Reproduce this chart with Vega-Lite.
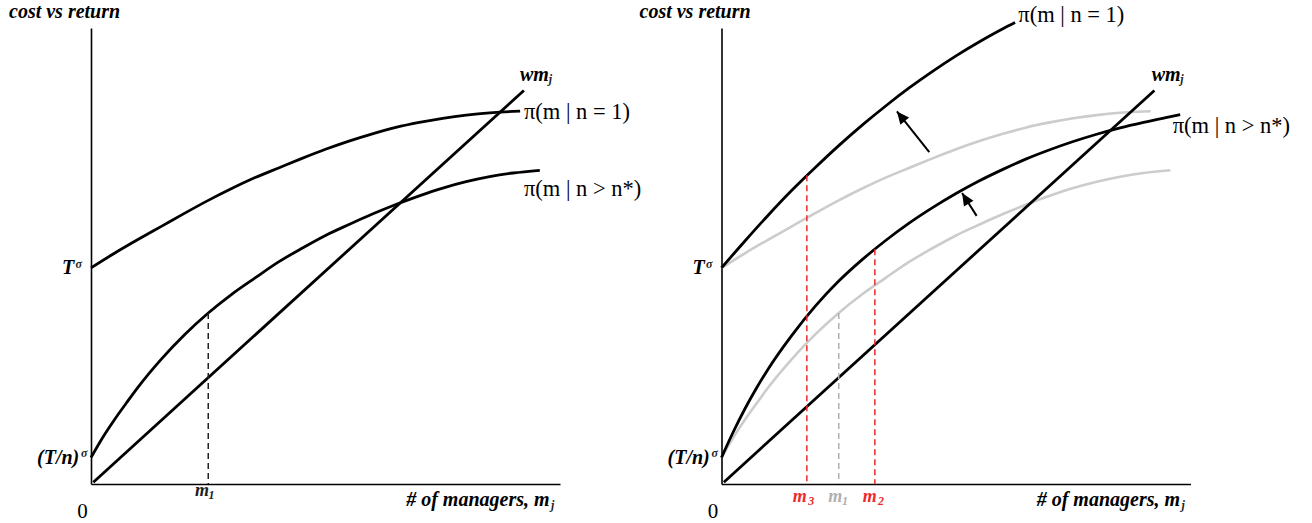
{
  "$schema": "https://vega.github.io/schema/vega-lite/v6.json",
  "autosize": {"type": "pad"},
  "padding": {"left": 9, "top": 1, "right": 0, "bottom": 0},
  "spacing": 161.5,
  "bounds": "flush",
  "config": {
    "view": {"stroke": null},
    "axis": {"labels": false, "ticks": false, "grid": false, "domainColor": "#000000", "domainWidth": 1.6}
  },
  "datasets": {
    "old": [
      {"curve": "n=1", "m": 0, "v": 4.74}, {"curve": "n=1", "m": 0.5, "v": 5.06}, {"curve": "n=1", "m": 1, "v": 5.36},
      {"curve": "n=1", "m": 1.5, "v": 5.65}, {"curve": "n=1", "m": 2, "v": 5.94}, {"curve": "n=1", "m": 2.5, "v": 6.22},
      {"curve": "n=1", "m": 3, "v": 6.48}, {"curve": "n=1", "m": 3.5, "v": 6.72}, {"curve": "n=1", "m": 4, "v": 6.93},
      {"curve": "n=1", "m": 4.5, "v": 7.14}, {"curve": "n=1", "m": 5, "v": 7.34}, {"curve": "n=1", "m": 5.5, "v": 7.52},
      {"curve": "n=1", "m": 6, "v": 7.68}, {"curve": "n=1", "m": 6.5, "v": 7.82}, {"curve": "n=1", "m": 7, "v": 7.93},
      {"curve": "n=1", "m": 7.5, "v": 8.02}, {"curve": "n=1", "m": 8, "v": 8.09}, {"curve": "n=1", "m": 8.5, "v": 8.14},
      {"curve": "n=1", "m": 9, "v": 8.17}, {"curve": "n=1", "m": 9.15, "v": 8.175},
      {"curve": "n>n*", "m": 0, "v": 0.58}, {"curve": "n>n*", "m": 0.25, "v": 1.02}, {"curve": "n>n*", "m": 0.5, "v": 1.41},
      {"curve": "n>n*", "m": 0.75, "v": 1.77}, {"curve": "n>n*", "m": 1, "v": 2.12}, {"curve": "n>n*", "m": 1.5, "v": 2.74},
      {"curve": "n>n*", "m": 2, "v": 3.28}, {"curve": "n>n*", "m": 2.5, "v": 3.75}, {"curve": "n>n*", "m": 3, "v": 4.16},
      {"curve": "n>n*", "m": 3.5, "v": 4.52}, {"curve": "n>n*", "m": 4, "v": 4.87}, {"curve": "n>n*", "m": 4.5, "v": 5.17},
      {"curve": "n>n*", "m": 5, "v": 5.45}, {"curve": "n>n*", "m": 5.5, "v": 5.69}, {"curve": "n>n*", "m": 6, "v": 5.92},
      {"curve": "n>n*", "m": 6.5, "v": 6.13}, {"curve": "n>n*", "m": 7, "v": 6.32}, {"curve": "n>n*", "m": 7.5, "v": 6.49},
      {"curve": "n>n*", "m": 8, "v": 6.63}, {"curve": "n>n*", "m": 8.5, "v": 6.74}, {"curve": "n>n*", "m": 9, "v": 6.82},
      {"curve": "n>n*", "m": 9.57, "v": 6.88}
    ],
    "new": [
      {"curve": "n=1", "m": 0, "v": 4.74}, {"curve": "n=1", "m": 0.5, "v": 5.33}, {"curve": "n=1", "m": 1, "v": 5.9},
      {"curve": "n=1", "m": 1.5, "v": 6.44}, {"curve": "n=1", "m": 2, "v": 6.94}, {"curve": "n=1", "m": 2.5, "v": 7.42},
      {"curve": "n=1", "m": 3, "v": 7.87}, {"curve": "n=1", "m": 3.5, "v": 8.29}, {"curve": "n=1", "m": 4, "v": 8.685},
      {"curve": "n=1", "m": 4.5, "v": 9.05}, {"curve": "n=1", "m": 5, "v": 9.39}, {"curve": "n=1", "m": 5.5, "v": 9.7},
      {"curve": "n=1", "m": 6, "v": 9.985}, {"curve": "n=1", "m": 6.26, "v": 10.12},
      {"curve": "n>n*", "m": 0, "v": 0.58}, {"curve": "n>n*", "m": 0.25, "v": 1.14}, {"curve": "n>n*", "m": 0.5, "v": 1.65},
      {"curve": "n>n*", "m": 0.75, "v": 2.11}, {"curve": "n>n*", "m": 1, "v": 2.53}, {"curve": "n>n*", "m": 1.5, "v": 3.26},
      {"curve": "n>n*", "m": 2, "v": 3.9}, {"curve": "n>n*", "m": 2.5, "v": 4.45}, {"curve": "n>n*", "m": 3, "v": 4.92},
      {"curve": "n>n*", "m": 3.5, "v": 5.34}, {"curve": "n>n*", "m": 4, "v": 5.72}, {"curve": "n>n*", "m": 4.5, "v": 6.06},
      {"curve": "n>n*", "m": 5, "v": 6.37}, {"curve": "n>n*", "m": 5.5, "v": 6.65}, {"curve": "n>n*", "m": 6, "v": 6.9},
      {"curve": "n>n*", "m": 6.5, "v": 7.13}, {"curve": "n>n*", "m": 7, "v": 7.33}, {"curve": "n>n*", "m": 7.5, "v": 7.51},
      {"curve": "n>n*", "m": 8, "v": 7.67}, {"curve": "n>n*", "m": 8.5, "v": 7.81}, {"curve": "n>n*", "m": 9, "v": 7.93},
      {"curve": "n>n*", "m": 9.5, "v": 8.04}, {"curve": "n>n*", "m": 9.78, "v": 8.1}
    ],
    "wm": [{"curve": "wm", "m": 0.05, "v": 0.04}, {"curve": "wm", "m": 9.23, "v": 8.63}],
    "drops": [
      {"panel": "L", "status": "base", "m": 2.5, "v": 3.75},
      {"panel": "R", "status": "new", "m": 1.82, "v": 6.77},
      {"panel": "R", "status": "old", "m": 2.5, "v": 3.75},
      {"panel": "R", "status": "new", "m": 3.27, "v": 5.15}
    ],
    "arrows": [
      {"arrow": "a", "tm": 4.43, "tv": 7.28, "hm": 3.74, "hv": 8.17},
      {"arrow": "b", "tm": 5.44, "tv": 5.88, "hm": 5.13, "hv": 6.38}
    ],
    "labels": [
      {"panel": "L", "role": "big", "status": "base", "text": "cost vs return", "m": -1.748, "v": 10.22},
      {"panel": "L", "role": "big", "status": "base", "text": "T", "m": -0.618, "v": 4.6},
      {"panel": "L", "role": "small", "status": "base", "text": "σ", "m": -0.33, "v": 4.743},
      {"panel": "L", "role": "big", "status": "base", "text": "(T/n)", "m": -1.151, "v": 0.445},
      {"panel": "L", "role": "small", "status": "base", "text": "σ", "m": -0.213, "v": 0.592},
      {"panel": "L", "role": "zero", "status": "base", "text": "0", "m": -0.292, "v": -0.746},
      {"panel": "L", "role": "mark", "status": "base", "text": "m", "m": 2.217, "v": -0.263},
      {"panel": "L", "role": "small", "status": "base", "text": "1", "m": 2.505, "v": -0.33},
      {"panel": "L", "role": "big", "status": "base", "text": "# of managers, m", "m": 6.72, "v": -0.482},
      {"panel": "L", "role": "small", "status": "base", "text": "j", "m": 9.81, "v": -0.55},
      {"panel": "L", "role": "big", "status": "base", "text": "wm", "m": 9.147, "v": 8.838},
      {"panel": "L", "role": "small", "status": "base", "text": "j", "m": 9.76, "v": 8.79},
      {"panel": "L", "role": "curve", "status": "base", "text": "π(m | n = 1)", "m": 9.232, "v": 8.004},
      {"panel": "L", "role": "curve", "status": "base", "text": "π(m | n > n*)", "m": 9.232, "v": 6.316},
      {"panel": "R", "role": "big", "status": "base", "text": "cost vs return", "m": -1.748, "v": 10.22},
      {"panel": "R", "role": "big", "status": "base", "text": "T", "m": -0.618, "v": 4.6},
      {"panel": "R", "role": "small", "status": "base", "text": "σ", "m": -0.33, "v": 4.743},
      {"panel": "R", "role": "big", "status": "base", "text": "(T/n)", "m": -1.151, "v": 0.445},
      {"panel": "R", "role": "small", "status": "base", "text": "σ", "m": -0.213, "v": 0.592},
      {"panel": "R", "role": "zero", "status": "base", "text": "0", "m": -0.292, "v": -0.746},
      {"panel": "R", "role": "mark", "status": "new", "text": "m", "m": 1.518, "v": -0.395},
      {"panel": "R", "role": "small", "status": "new", "text": "3", "m": 1.851, "v": -0.46},
      {"panel": "R", "role": "mark", "status": "old", "text": "m", "m": 2.277, "v": -0.395},
      {"panel": "R", "role": "small", "status": "old", "text": "1", "m": 2.569, "v": -0.46},
      {"panel": "R", "role": "mark", "status": "new", "text": "m", "m": 3.011, "v": -0.395},
      {"panel": "R", "role": "small", "status": "new", "text": "2", "m": 3.337, "v": -0.46},
      {"panel": "R", "role": "big", "status": "base", "text": "# of managers, m", "m": 6.72, "v": -0.482},
      {"panel": "R", "role": "small", "status": "base", "text": "j", "m": 9.81, "v": -0.55},
      {"panel": "R", "role": "big", "status": "base", "text": "wm", "m": 9.173, "v": 8.83},
      {"panel": "R", "role": "small", "status": "base", "text": "j", "m": 9.78, "v": 8.79},
      {"panel": "R", "role": "curve", "status": "base", "text": "π(m | n = 1)", "m": 6.328, "v": 10.14},
      {"panel": "R", "role": "curve", "status": "base", "text": "π(m | n > n*)", "m": 9.62, "v": 7.7}
    ]
  },
  "hconcat": [
    {
      "width": 469,
      "height": 456,
      "layer": [
        {
          "data": {"name": "old"},
          "mark": {"type": "line", "color": "#000000", "strokeWidth": 2.8, "interpolate": "monotone"},
          "encoding": {
            "x": {"field": "m", "type": "quantitative", "title": null, "scale": {"domain": [0, 10], "nice": false, "zero": false}},
            "y": {"field": "v", "type": "quantitative", "title": null, "scale": {"domain": [0, 10], "nice": false, "zero": false}},
            "detail": {"field": "curve"}
          }
        },
        {
          "data": {"name": "wm"},
          "mark": {"type": "line", "color": "#000000", "strokeWidth": 2.8},
          "encoding": {
            "x": {"field": "m", "type": "quantitative", "title": null},
            "y": {"field": "v", "type": "quantitative", "title": null}
          }
        },
        {
          "data": {"name": "drops"},
          "transform": [{"filter": "datum.panel == 'L'"}],
          "mark": {"type": "rule", "strokeWidth": 1.5, "strokeDash": [6, 4]},
          "encoding": {
            "x": {"field": "m", "type": "quantitative", "title": null},
            "y": {"field": "v", "type": "quantitative", "title": null},
            "y2": {"datum": 0},
            "color": {"field": "status", "type": "nominal", "scale": {"domain": ["base", "old", "new"], "range": ["#222222", "#b0b0b0", "#ee2a2a"]}, "legend": null}
          }
        },
        {
          "data": {"name": "labels"},
          "transform": [{"filter": "datum.panel == 'L' && datum.role == 'big'"}],
          "mark": {"type": "text", "align": "left", "baseline": "alphabetic", "font": "Liberation Serif", "fontStyle": "italic", "fontWeight": "bold", "fontSize": 20, "color": "#000000"},
          "encoding": {
            "x": {"field": "m", "type": "quantitative", "title": null},
            "y": {"field": "v", "type": "quantitative", "title": null},
            "text": {"field": "text"}
          }
        },
        {
          "data": {"name": "labels"},
          "transform": [{"filter": "datum.panel == 'L' && (datum.role == 'small' || datum.role == 'mark')"}],
          "mark": {"type": "text", "align": "left", "baseline": "alphabetic", "font": "Liberation Serif", "fontStyle": "italic", "fontWeight": "bold"},
          "encoding": {
            "x": {"field": "m", "type": "quantitative", "title": null},
            "y": {"field": "v", "type": "quantitative", "title": null},
            "text": {"field": "text"},
            "size": {"field": "role", "type": "nominal", "scale": {"domain": ["small", "mark"], "range": [12, 18]}, "legend": null},
            "color": {"field": "status", "type": "nominal", "scale": {"domain": ["base", "old", "new"], "range": ["#000000", "#b0b0b0", "#ee2a2a"]}, "legend": null}
          }
        },
        {
          "data": {"name": "labels"},
          "transform": [{"filter": "datum.panel == 'L' && datum.role == 'zero'"}],
          "mark": {"type": "text", "align": "left", "baseline": "alphabetic", "font": "Liberation Serif", "fontSize": 21, "color": "#000000"},
          "encoding": {
            "x": {"field": "m", "type": "quantitative", "title": null},
            "y": {"field": "v", "type": "quantitative", "title": null},
            "text": {"field": "text"}
          }
        },
        {
          "data": {"name": "labels"},
          "transform": [{"filter": "datum.panel == 'L' && datum.role == 'curve'"}],
          "mark": {"type": "text", "align": "left", "baseline": "alphabetic", "font": "Liberation Serif", "fontSize": 22.5, "color": "#000000"},
          "encoding": {
            "x": {"field": "m", "type": "quantitative", "title": null},
            "y": {"field": "v", "type": "quantitative", "title": null},
            "text": {"field": "text"}
          }
        }
      ]
    },
    {
      "width": 469,
      "height": 456,
      "layer": [
        {
          "data": {"name": "old"},
          "mark": {"type": "line", "color": "#cccccc", "strokeWidth": 2.6, "interpolate": "monotone"},
          "encoding": {
            "x": {"field": "m", "type": "quantitative", "title": null, "scale": {"domain": [0, 10], "nice": false, "zero": false}},
            "y": {"field": "v", "type": "quantitative", "title": null, "scale": {"domain": [0, 10], "nice": false, "zero": false}},
            "detail": {"field": "curve"}
          }
        },
        {
          "data": {"name": "new"},
          "mark": {"type": "line", "color": "#000000", "strokeWidth": 2.8, "interpolate": "monotone"},
          "encoding": {
            "x": {"field": "m", "type": "quantitative", "title": null},
            "y": {"field": "v", "type": "quantitative", "title": null},
            "detail": {"field": "curve"}
          }
        },
        {
          "data": {"name": "wm"},
          "mark": {"type": "line", "color": "#000000", "strokeWidth": 2.8},
          "encoding": {
            "x": {"field": "m", "type": "quantitative", "title": null},
            "y": {"field": "v", "type": "quantitative", "title": null}
          }
        },
        {
          "data": {"name": "drops"},
          "transform": [{"filter": "datum.panel == 'R'"}],
          "mark": {"type": "rule", "strokeWidth": 1.5, "strokeDash": [6, 4]},
          "encoding": {
            "x": {"field": "m", "type": "quantitative", "title": null},
            "y": {"field": "v", "type": "quantitative", "title": null},
            "y2": {"datum": 0},
            "color": {"field": "status", "type": "nominal", "scale": {"domain": ["base", "old", "new"], "range": ["#000000", "#b0b0b0", "#ee2a2a"]}, "legend": null}
          }
        },
        {
          "data": {"name": "arrows"},
          "mark": {"type": "rule", "strokeWidth": 2, "color": "#000000"},
          "encoding": {
            "x": {"field": "tm", "type": "quantitative", "title": null},
            "y": {"field": "tv", "type": "quantitative", "title": null},
            "x2": {"field": "hm"},
            "y2": {"field": "hv"}
          }
        },
        {
          "data": {"name": "arrows"},
          "transform": [{"filter": "datum.arrow == 'a'"}],
          "mark": {"type": "point", "shape": "M0,0L0.45,1L-0.45,1Z", "filled": true, "size": 620, "angle": 321, "color": "#000000", "opacity": 1, "strokeWidth": 0},
          "encoding": {
            "x": {"field": "hm", "type": "quantitative", "title": null},
            "y": {"field": "hv", "type": "quantitative", "title": null}
          }
        },
        {
          "data": {"name": "arrows"},
          "transform": [{"filter": "datum.arrow == 'b'"}],
          "mark": {"type": "point", "shape": "M0,0L0.45,1L-0.45,1Z", "filled": true, "size": 620, "angle": 328, "color": "#000000", "opacity": 1, "strokeWidth": 0},
          "encoding": {
            "x": {"field": "hm", "type": "quantitative", "title": null},
            "y": {"field": "hv", "type": "quantitative", "title": null}
          }
        },
        {
          "data": {"name": "labels"},
          "transform": [{"filter": "datum.panel == 'R' && datum.role == 'big'"}],
          "mark": {"type": "text", "align": "left", "baseline": "alphabetic", "font": "Liberation Serif", "fontStyle": "italic", "fontWeight": "bold", "fontSize": 20, "color": "#000000"},
          "encoding": {
            "x": {"field": "m", "type": "quantitative", "title": null},
            "y": {"field": "v", "type": "quantitative", "title": null},
            "text": {"field": "text"}
          }
        },
        {
          "data": {"name": "labels"},
          "transform": [{"filter": "datum.panel == 'R' && (datum.role == 'small' || datum.role == 'mark')"}],
          "mark": {"type": "text", "align": "left", "baseline": "alphabetic", "font": "Liberation Serif", "fontStyle": "italic", "fontWeight": "bold"},
          "encoding": {
            "x": {"field": "m", "type": "quantitative", "title": null},
            "y": {"field": "v", "type": "quantitative", "title": null},
            "text": {"field": "text"},
            "size": {"field": "role", "type": "nominal", "scale": {"domain": ["small", "mark"], "range": [12, 18]}, "legend": null},
            "color": {"field": "status", "type": "nominal", "scale": {"domain": ["base", "old", "new"], "range": ["#000000", "#b0b0b0", "#ee2a2a"]}, "legend": null}
          }
        },
        {
          "data": {"name": "labels"},
          "transform": [{"filter": "datum.panel == 'R' && datum.role == 'zero'"}],
          "mark": {"type": "text", "align": "left", "baseline": "alphabetic", "font": "Liberation Serif", "fontSize": 21, "color": "#000000"},
          "encoding": {
            "x": {"field": "m", "type": "quantitative", "title": null},
            "y": {"field": "v", "type": "quantitative", "title": null},
            "text": {"field": "text"}
          }
        },
        {
          "data": {"name": "labels"},
          "transform": [{"filter": "datum.panel == 'R' && datum.role == 'curve'"}],
          "mark": {"type": "text", "align": "left", "baseline": "alphabetic", "font": "Liberation Serif", "fontSize": 22.5, "color": "#000000"},
          "encoding": {
            "x": {"field": "m", "type": "quantitative", "title": null},
            "y": {"field": "v", "type": "quantitative", "title": null},
            "text": {"field": "text"}
          }
        }
      ]
    }
  ]
}
